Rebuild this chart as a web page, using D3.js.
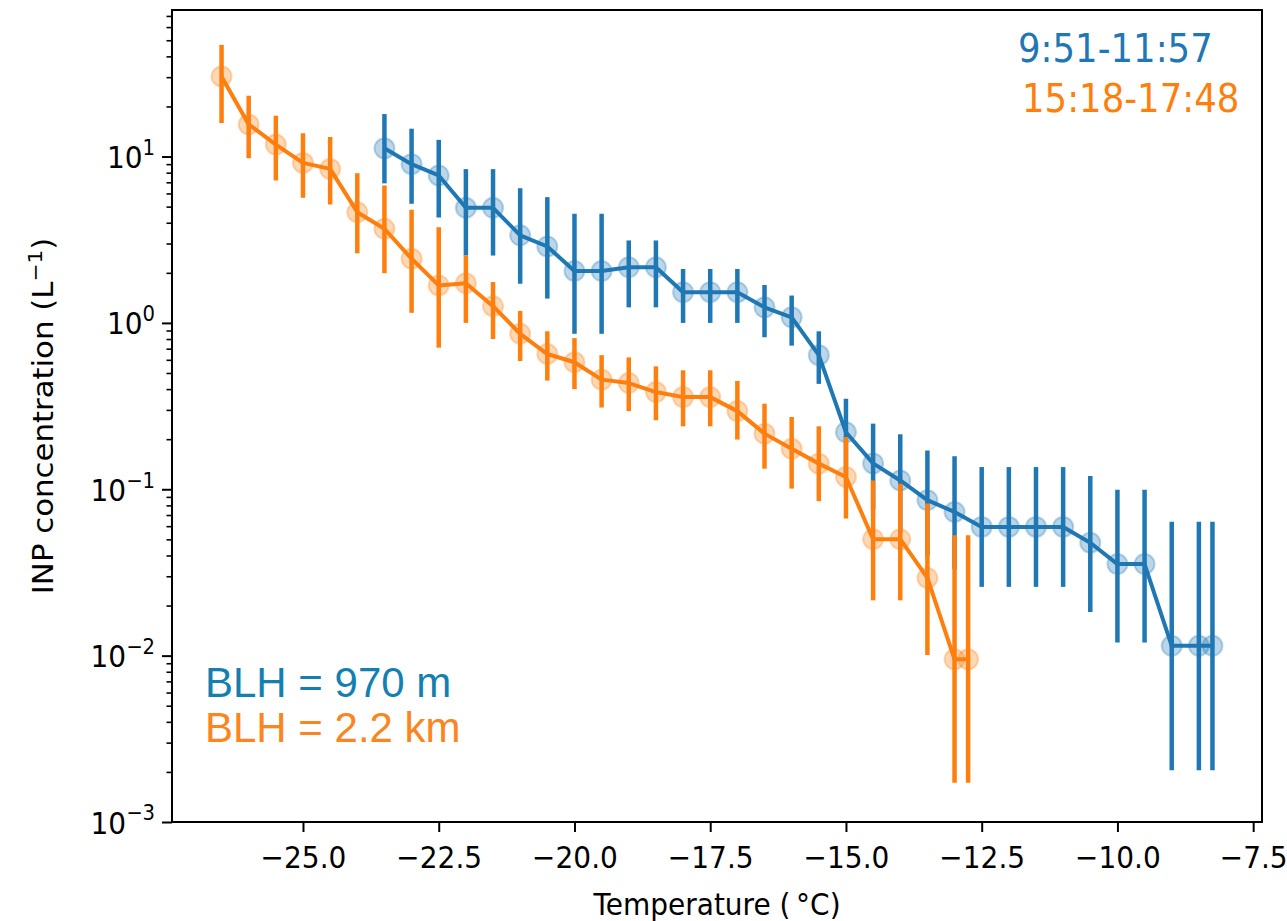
<!DOCTYPE html>
<html>
<head>
<meta charset="utf-8">
<script src="https://cdn.jsdelivr.net/npm/d3@7"></script>
<style>
  body { margin: 0; background: #fff; }
  svg { display: block; }
  text { font-family: "DejaVu Sans", sans-serif; fill: #000; }
</style>
</head>
<body>
<div id="chart"></div>
<script>
// Morning run (blue): temperature, INP concentration and error bar ends (L^-1)
const tempMorning = [-23.5, -23, -22.5, -22, -21.5, -21, -20.5, -20, -19.5, -19, -18.5, -18, -17.5, -17,
    -16.5, -16, -15.5, -15, -14.5, -14, -13.5, -13, -12.5, -12, -11.5, -11, -10.5, -10, -9.5, -9, -8.5, -8.25];
const concMorning = [11.2, 9.0, 7.7, 4.92, 4.92, 3.36, 2.88, 2.05, 2.05, 2.16, 2.16, 1.53, 1.53, 1.53,
    1.24, 1.08, 0.64, 0.22, 0.143, 0.113, 0.086, 0.073, 0.0594, 0.0594, 0.0594, 0.0594, 0.0477, 0.0355, 0.0355, 0.01146, 0.01146, 0.01146];
const lowMorning = [6.9, 5.2, 4.3, 2.54, 2.54, 1.72, 1.40, 0.86, 0.86, 1.24, 1.24, 1.0, 1.0, 1.0,
    0.82, 0.73, 0.43, 0.12, 0.075, 0.055, 0.04, 0.033, 0.0259, 0.0259, 0.0259, 0.0259, 0.0183, 0.012, 0.012, 0.00205, 0.00205, 0.00205];
const highMorning = [18, 14.7, 12.6, 8.4, 8.4, 6.45, 5.7, 4.53, 4.53, 3.13, 3.13, 2.11, 2.11, 2.11,
    1.69, 1.46, 0.89, 0.35, 0.248, 0.214, 0.171, 0.158, 0.136, 0.136, 0.136, 0.136, 0.12, 0.0995, 0.0995, 0.0637, 0.0637, 0.0637];

// Afternoon run (orange)
const tempAfternoon = [-26.5, -26, -25.5, -25, -24.5, -24, -23.5, -23, -22.5, -22, -21.5, -21, -20.5, -20,
    -19.5, -19, -18.5, -18, -17.5, -17, -16.5, -16, -15.5, -15, -14.5, -14, -13.5, -13, -12.75];
const concAfternoon = [30.3, 15.6, 11.8, 9.16, 8.43, 4.63, 3.68, 2.43, 1.68, 1.73, 1.26, 0.86, 0.65, 0.58,
    0.456, 0.435, 0.384, 0.358, 0.358, 0.295, 0.216, 0.175, 0.1426, 0.1186, 0.0501, 0.0501, 0.0293, 0.0095, 0.0095];
const lowAfternoon = [15.9, 9.77, 7.18, 5.65, 5.15, 2.62, 1.99, 1.15, 0.71, 1.0, 0.80, 0.59, 0.45, 0.40,
    0.31, 0.295, 0.26, 0.239, 0.239, 0.199, 0.133, 0.101, 0.0848, 0.0667, 0.0215, 0.0215, 0.0101, 0.00172, 0.00172];
const highAfternoon = [46.9, 23.2, 17.6, 13.8, 13.1, 7.94, 6.7, 4.79, 3.76, 2.54, 1.76, 1.18, 0.89, 0.81,
    0.64, 0.62, 0.548, 0.519, 0.519, 0.448, 0.327, 0.272, 0.239, 0.206, 0.113, 0.108, 0.082, 0.053, 0.053];

const xTicks = [-25, -22.5, -20, -17.5, -15, -12.5, -10, -7.5];
const yTicks = [1e-3, 1e-2, 1e-1, 1e0, 1e1];
const yExponents = ["\u22123", "\u22122", "\u22121", "0", "1"];
const yTop = 76;
const legendLabels = ["9:51-11:57", "15:18-17:48"];
const blhLabels = ["BLH = 970 m", "BLH = 2.2 km"];

const width = 1287;
const height = 921;
const margin = { top: 10, right: 25, bottom: 99, left: 172 };
const stretch = 1.1; // the original figure is slightly stretched vertically

const blue = "#1f77b4";
const orange = "#ff7f0e";

const svg = d3.select("#chart")
    .append("svg")
    .attr("width", width)
    .attr("height", height);

// scales (matplotlib style 5% margin on x)
const allTemps = tempMorning.concat(tempAfternoon);
const xMin = d3.min(allTemps), xMax = d3.max(allTemps);
const pad = (xMax - xMin) * 0.05;
const x = d3.scaleLinear()
    .domain([xMin - pad, xMax + pad])
    .range([margin.left, width - margin.right]);

const y = d3.scaleLog()
    .domain([1e-3, yTop])
    .range([height - margin.bottom, margin.top]);

// x axis
const xAxis = svg.append("g")
    .attr("transform", `translate(0, ${height - margin.bottom})`)
    .call(d3.axisBottom(x).tickValues(xTicks).tickSize(10).tickFormat(d => d3.format(".1f")(d).replace("-", "\u2212")));
xAxis.select(".domain").remove();
xAxis.selectAll(".tick line").attr("stroke", "#000").attr("stroke-width", 2);
xAxis.selectAll(".tick text")
    .attr("y", 41.8)
    .attr("dy", 0)
    .attr("transform", `scale(1, ${stretch})`)
    .style("font-size", "28px");

// y axis: minor ticks
const minorTicks = y.ticks().filter(v => !yTicks.some(t => Math.abs(t - v) / t < 1e-6));
const yMinor = svg.append("g")
    .attr("transform", `translate(${margin.left}, 0)`)
    .call(d3.axisLeft(y).tickValues(minorTicks).tickSize(5.5).tickFormat(""));
yMinor.select(".domain").remove();
yMinor.selectAll(".tick line").attr("stroke", "#000").attr("stroke-width", 1.6);

// y axis: major ticks
const yAxis = svg.append("g")
    .attr("transform", `translate(${margin.left}, 0)`)
    .call(d3.axisLeft(y).tickValues(yTicks).tickSize(10).tickFormat(""));
yAxis.select(".domain").remove();
yAxis.selectAll(".tick line").attr("stroke", "#000").attr("stroke-width", 2);
yAxis.selectAll(".tick text")
    .attr("x", -17)
    .attr("y", 10)
    .attr("dy", 0)
    .attr("transform", `scale(1, ${stretch})`)
    .style("font-size", "28px")
    .each(function(d, i) {
        const t = d3.select(this);
        t.text(null);
        t.append("tspan").text("10");
        t.append("tspan").attr("dy", -12).style("font-size", "19.6px").text(yExponents[i]);
    });

// plot frame
svg.append("rect")
    .attr("x", margin.left)
    .attr("y", margin.top)
    .attr("width", width - margin.left - margin.right)
    .attr("height", height - margin.top - margin.bottom)
    .attr("fill", "none")
    .attr("stroke", "#000")
    .attr("stroke-width", 2);

// axis titles
svg.append("text")
    .attr("transform", `translate(${(margin.left + width - margin.right) / 2}, 915) scale(1, ${stretch})`)
    .attr("text-anchor", "middle")
    .style("font-size", "28px")
    .text("Temperature (\u2009\u00b0C)");

const yLabel = svg.append("text")
    .attr("transform", `translate(53, ${(margin.top + height - margin.bottom) / 2}) rotate(-90) scale(${stretch}, 1)`)
    .attr("text-anchor", "middle")
    .style("font-size", "28px");
yLabel.append("tspan").text("INP concentration (L");
yLabel.append("tspan").attr("dy", -11).style("font-size", "19.6px").text("\u22121");
yLabel.append("tspan").attr("dy", 11).text(")");

// series
const plotArea = svg.append("g");
const line = d3.line().x(d => x(d.t)).y(d => y(d.c));

function drawSeries(temps, conc, low, high, color) {
    const data = temps.map((t, i) => ({ t: t, c: conc[i], lo: low[i], hi: high[i] }));
    const g = plotArea.append("g");
    g.append("path")
        .datum(data)
        .attr("d", line)
        .attr("fill", "none")
        .attr("stroke", color)
        .attr("stroke-width", 4)
        .attr("stroke-linejoin", "round");
    g.selectAll("circle")
        .data(data)
        .enter()
        .append("circle")
        .attr("cx", d => x(d.t))
        .attr("cy", d => y(d.c))
        .attr("r", 10)
        .attr("fill", color)
        .attr("fill-opacity", 0.3)
        .attr("stroke", color)
        .attr("stroke-opacity", 0.3)
        .attr("stroke-width", 2);
    g.selectAll(".err")
        .data(data)
        .enter()
        .append("line")
        .attr("class", "err")
        .attr("x1", d => x(d.t))
        .attr("x2", d => x(d.t))
        .attr("y1", d => y(d.lo))
        .attr("y2", d => y(d.hi))
        .attr("stroke", color)
        .attr("stroke-width", 4.5);
}

drawSeries(tempMorning, concMorning, lowMorning, highMorning, blue);
drawSeries(tempAfternoon, concAfternoon, lowAfternoon, highAfternoon, orange);

// legend (coloured text, top right)
const legendPos = [[1018, 62], [1022, 112]];
[blue, orange].forEach((c, i) => {
    svg.append("text")
        .attr("transform", `translate(${legendPos[i][0]}, ${legendPos[i][1]}) scale(1, ${stretch})`)
        .style("font-size", "35.5px")
        .style("fill", c)
        .text(legendLabels[i]);
});

// boundary layer height notes (bottom left)
const blhColors = ["#1480b0", "#fb8520"];
blhLabels.forEach((s, i) => {
    svg.append("text")
        .attr("x", 205)
        .attr("y", 697 + i * 45)
        .style("font-family", "'Liberation Sans', Arial, sans-serif")
        .style("font-size", "42px")
        .style("fill", blhColors[i])
        .text(s);
});
</script>
</body>
</html>
